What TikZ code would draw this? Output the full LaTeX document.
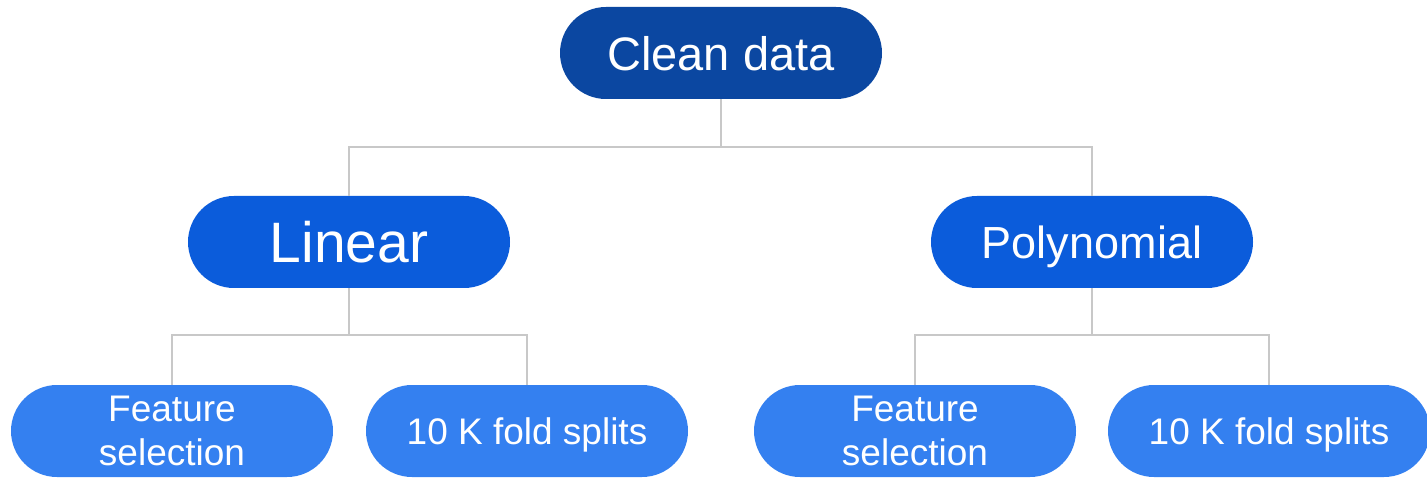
\documentclass[tikz,border=0pt]{standalone}
\usepackage{fontspec}
\setmainfont{Liberation Sans}
\usetikzlibrary{calc}

\definecolor{topblue}{RGB}{11,71,161}
\definecolor{midblue}{RGB}{11,92,219}
\definecolor{leafblue}{RGB}{52,128,240}
\definecolor{linegray}{RGB}{200,200,200}

\tikzset{
  pill/.style={rounded corners=46pt, minimum width=322pt, minimum height=92pt,
    inner sep=0pt, text=white, align=center, text depth=0pt},
  conn/.style={draw=linegray, line width=2pt}
}

\begin{document}
\begin{tikzpicture}[x=1pt,y=-1pt]
\useasboundingbox (0,0) rectangle (1427,478);
\node[pill, fill=topblue, font=\fontsize{47}{52}\selectfont] (clean) at (721,53) {Clean data};
\node[pill, fill=midblue, font=\fontsize{57}{62}\selectfont] (lin) at (349,242) {Linear};
\node[pill, fill=midblue, font=\fontsize{45}{50}\selectfont] (poly) at (1092,242) {Polynomial};
\node[pill, fill=leafblue, font=\fontsize{37}{44}\selectfont] (fs1) at (172,431) {Feature\\selection};
\node[pill, fill=leafblue, font=\fontsize{37}{44}\selectfont] (kf1) at (527,431) {10 K fold splits};
\node[pill, fill=leafblue, font=\fontsize{37}{44}\selectfont] (fs2) at (915,431) {Feature\\selection};
\node[pill, fill=leafblue, font=\fontsize{37}{44}\selectfont] (kf2) at (1269,431) {10 K fold splits};
\coordinate (bus0) at (721,147);
\coordinate (bus1) at (349,335);
\coordinate (bus2) at (1092,335);
\draw[conn] (clean.south) -- (bus0);
\draw[conn] (lin.north) |- (bus0) -| (poly.north);
\draw[conn] (lin.south) -- (bus1);
\draw[conn] (fs1.north) |- (bus1) -| (kf1.north);
\draw[conn] (poly.south) -- (bus2);
\draw[conn] (fs2.north) |- (bus2) -| (kf2.north);
\end{tikzpicture}
\end{document}
